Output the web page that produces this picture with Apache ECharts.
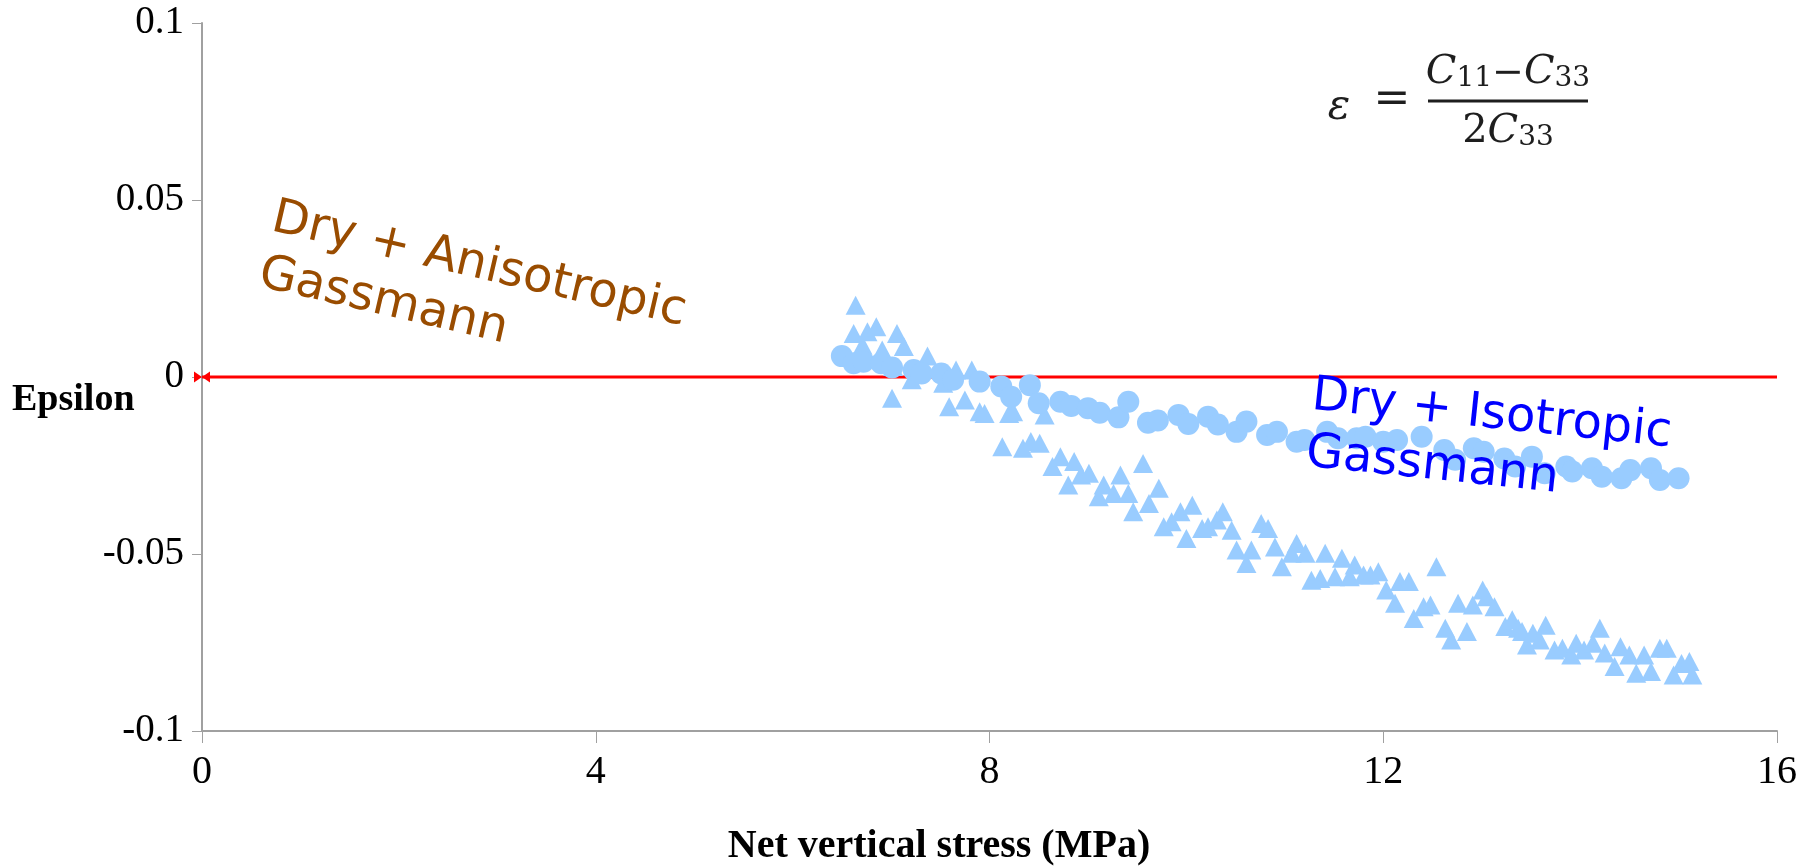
<!DOCTYPE html>
<html>
<head>
<meta charset="utf-8">
<script src="https://cdn.jsdelivr.net/npm/echarts@6/dist/echarts.min.js"></script>
<style>
html,body{margin:0;padding:0;background:#fff;}
#chart{width:1814px;height:866px;}
</style>
</head>
<body>
<div id="chart"></div>
<script>
// Net vertical stress (MPa) / epsilon pairs
const isoStress = [6.50,6.62,6.72,6.90,7.01,7.23,7.31,7.51,7.63,7.90,8.12,8.22,8.41,8.50,8.72,8.83,9.00,9.12,9.31,9.41,9.61,9.71,9.92,10.02,10.22,10.32,10.51,10.61,10.82,10.92,11.12,11.20,11.43,11.54,11.73,11.82,12.00,12.14,12.39,12.62,12.73,12.92,13.02,13.23,13.34,13.51,13.64,13.86,13.92,14.12,14.22,14.42,14.51,14.72,14.81,15.00];
const isoEps = [0.0059,0.0039,0.0043,0.0039,0.0027,0.0020,0.0010,0.0010,-0.0008,-0.0013,-0.0027,-0.0056,-0.0023,-0.0074,-0.0070,-0.0082,-0.0088,-0.0101,-0.0114,-0.0070,-0.0129,-0.0123,-0.0107,-0.0133,-0.0112,-0.0134,-0.0155,-0.0126,-0.0164,-0.0155,-0.0183,-0.0178,-0.0155,-0.0173,-0.0173,-0.0169,-0.0183,-0.0178,-0.0169,-0.0206,-0.0234,-0.0201,-0.0211,-0.0230,-0.0253,-0.0225,-0.0272,-0.0253,-0.0267,-0.0258,-0.0282,-0.0286,-0.0263,-0.0258,-0.0291,-0.0286];

const dryStress = [6.62,6.64,6.71,6.76,6.85,6.91,7.01,7.02,7.06,7.13,7.21,7.37,7.53,7.59,7.66,7.75,7.82,7.90,7.95,8.13,8.20,8.24,8.34,8.42,8.51,8.56,8.64,8.72,8.80,8.86,8.93,9.01,9.11,9.16,9.26,9.33,9.41,9.46,9.56,9.62,9.72,9.77,9.85,9.94,10.00,10.06,10.16,10.22,10.31,10.37,10.46,10.51,10.61,10.66,10.76,10.83,10.90,10.97,11.07,11.12,11.21,11.27,11.36,11.41,11.51,11.58,11.66,11.71,11.80,11.87,11.95,12.03,12.12,12.17,12.26,12.31,12.41,12.48,12.54,12.63,12.69,12.76,12.85,12.91,13.01,13.05,13.13,13.24,13.31,13.37,13.41,13.46,13.52,13.59,13.65,13.74,13.82,13.91,13.96,14.04,14.13,14.20,14.25,14.35,14.41,14.50,14.57,14.65,14.72,14.81,14.88,14.95,15.03,15.11,15.14];
const dryEps = [0.0123,0.0203,0.0090,0.0128,0.0142,0.0076,-0.0060,0.0030,0.0123,0.0086,-0.0008,0.0059,-0.0018,-0.0084,0.0020,-0.0065,0.0020,-0.0098,-0.0103,-0.0197,-0.0103,-0.0098,-0.0201,-0.0182,-0.0187,-0.0107,-0.0253,-0.0225,-0.0305,-0.0239,-0.0277,-0.0272,-0.0338,-0.0305,-0.0329,-0.0277,-0.0329,-0.0381,-0.0244,-0.0357,-0.0314,-0.0423,-0.0409,-0.0381,-0.0456,-0.0362,-0.0428,-0.0423,-0.0404,-0.0381,-0.0433,-0.0489,-0.0527,-0.0489,-0.0414,-0.0428,-0.0480,-0.0536,-0.0498,-0.0470,-0.0498,-0.0574,-0.0569,-0.0498,-0.0564,-0.0512,-0.0564,-0.0531,-0.0559,-0.0559,-0.0550,-0.0602,-0.0639,-0.0578,-0.0578,-0.0682,-0.0649,-0.0644,-0.0536,-0.0710,-0.0743,-0.0639,-0.0719,-0.0644,-0.0602,-0.0621,-0.0649,-0.0705,-0.0686,-0.0710,-0.0719,-0.0757,-0.0724,-0.0743,-0.0701,-0.0771,-0.0766,-0.0785,-0.0752,-0.0771,-0.0752,-0.0710,-0.0780,-0.0818,-0.0762,-0.0785,-0.0837,-0.0785,-0.0832,-0.0766,-0.0766,-0.0842,-0.0809,-0.0804,-0.0842];

const anisoStress = [0, 16];
const anisoEps = [0, 0];

const xTicks = [0, 4, 8, 12, 16];
const yTicks = [-0.1, -0.05, 0, 0.05, 0.1];

const chart = echarts.init(document.getElementById('chart'), null, {renderer: 'canvas'});
const serif = '"Liberation Serif", "Times New Roman", serif';
const sans = '"DejaVu Sans", sans-serif';
const axisGray = '#a0a0a0';
const markerBlue = '#99ccff';

const option = {
  backgroundColor: '#ffffff',
  animation: false,
  grid: {left: 202, right: 37, top: 23, bottom: 135, containLabel: false},
  xAxis: {
    type: 'value', min: xTicks[0], max: xTicks[xTicks.length - 1], interval: xTicks[1] - xTicks[0],
    axisLine: {show: true, onZero: false, lineStyle: {color: axisGray, width: 2}},
    axisTick: {show: true, inside: false, length: 12, lineStyle: {color: axisGray, width: 1}},
    axisLabel: {margin: 21, color: '#000', fontFamily: serif, fontSize: 40},
    splitLine: {show: false}
  },
  yAxis: {
    type: 'value', min: yTicks[0], max: yTicks[yTicks.length - 1], interval: yTicks[1] - yTicks[0],
    axisLine: {show: true, onZero: false, lineStyle: {color: axisGray, width: 2}},
    axisTick: {show: true, inside: false, length: 10, lineStyle: {color: axisGray, width: 1}},
    axisLabel: {margin: 18, color: '#000', fontFamily: serif, fontSize: 39,
      formatter: v => String(+(+v).toFixed(2))},
    splitLine: {show: false}
  },
  series: [
    {
      type: 'line', name: 'Dry + Anisotropic Gassmann',
      data: anisoStress.map((x, i) => i === 0
        ? {value: [x, anisoEps[i]], symbol: 'path://M0,0 L10,5 L0,10 Z M20,0 L10,5 L20,10 Z', symbolSize: [16, 11]}
        : {value: [x, anisoEps[i]], symbol: 'none'}),
      showSymbol: true,
      lineStyle: {color: '#ff0000', width: 3},
      itemStyle: {color: '#ff0000'},
      z: 1
    },
    {
      type: 'scatter', name: 'Dry',
      data: dryStress.map((x, i) => [x, dryEps[i]]),
      symbol: 'triangle', symbolSize: [20, 19],
      itemStyle: {color: markerBlue, opacity: 1},
      z: 2
    },
    {
      type: 'scatter', name: 'Dry + Isotropic Gassmann',
      data: isoStress.map((x, i) => [x, isoEps[i]]),
      symbol: 'circle', symbolSize: 22,
      itemStyle: {color: markerBlue, opacity: 1},
      z: 3
    }
  ],
  graphic: [
    {type: 'text', x: 12, y: 400, z: 10,
      style: {text: 'Epsilon', font: 'bold 38px ' + serif, fill: '#000', align: 'left', verticalAlign: 'middle'}},
    {type: 'text', x: 939, y: 847, z: 10,
      style: {text: 'Net vertical stress (MPa)', font: 'bold 40px ' + serif, fill: '#000', align: 'center', verticalAlign: 'middle'}},
    {type: 'text', x: 279, y: 190, rotation: -13 * Math.PI / 180, z: 10,
      style: {text: 'Dry + Anisotropic\nGassmann', font: '48px ' + sans, fill: '#994c00', align: 'left', verticalAlign: 'top', lineHeight: 57}},
    {type: 'text', x: 1315, y: 368, rotation: -6 * Math.PI / 180, z: 10,
      style: {text: 'Dry + Isotropic\nGassmann', font: '48px ' + sans, fill: '#0000ff', align: 'left', verticalAlign: 'top', lineHeight: 57}},
    // formula
    {type: 'text', x: 1339, y: 108, z: 10,
      style: {text: 'ε', font: 'italic 42px "DejaVu Serif", serif', fill: '#1e1e1e', align: 'center', verticalAlign: 'middle'}},
    {type: 'text', x: 1392, y: 101, z: 10,
      style: {text: '=', font: '44px "DejaVu Serif", serif', fill: '#1e1e1e', align: 'center', verticalAlign: 'middle'}},
    {type: 'text', x: 1508, y: 93, z: 10,
      style: {
        text: '{c|C}{s|11}{m|−}{c|C}{s|33}', align: 'center', verticalAlign: 'bottom',
        rich: {
          c: {font: 'italic 40px "DejaVu Serif", serif', fill: '#1e1e1e', verticalAlign: 'bottom'},
          s: {font: '28px "DejaVu Serif", serif', fill: '#1e1e1e', verticalAlign: 'bottom'},
          m: {font: '38px "DejaVu Serif", serif', fill: '#1e1e1e', verticalAlign: 'bottom'}
        }
      }},
    {type: 'line', z: 10, shape: {x1: 1428, y1: 101, x2: 1588, y2: 101},
      style: {stroke: '#1e1e1e', lineWidth: 3}},
    {type: 'text', x: 1508, y: 152, z: 10,
      style: {
        text: '{n|2}{c|C}{s|33}', align: 'center', verticalAlign: 'bottom',
        rich: {
          n: {font: '40px "DejaVu Serif", serif', fill: '#1e1e1e', verticalAlign: 'bottom'},
          c: {font: 'italic 40px "DejaVu Serif", serif', fill: '#1e1e1e', verticalAlign: 'bottom'},
          s: {font: '28px "DejaVu Serif", serif', fill: '#1e1e1e', verticalAlign: 'bottom'}
        }
      }}
  ]
};
chart.setOption(option);
</script>
</body>
</html>
